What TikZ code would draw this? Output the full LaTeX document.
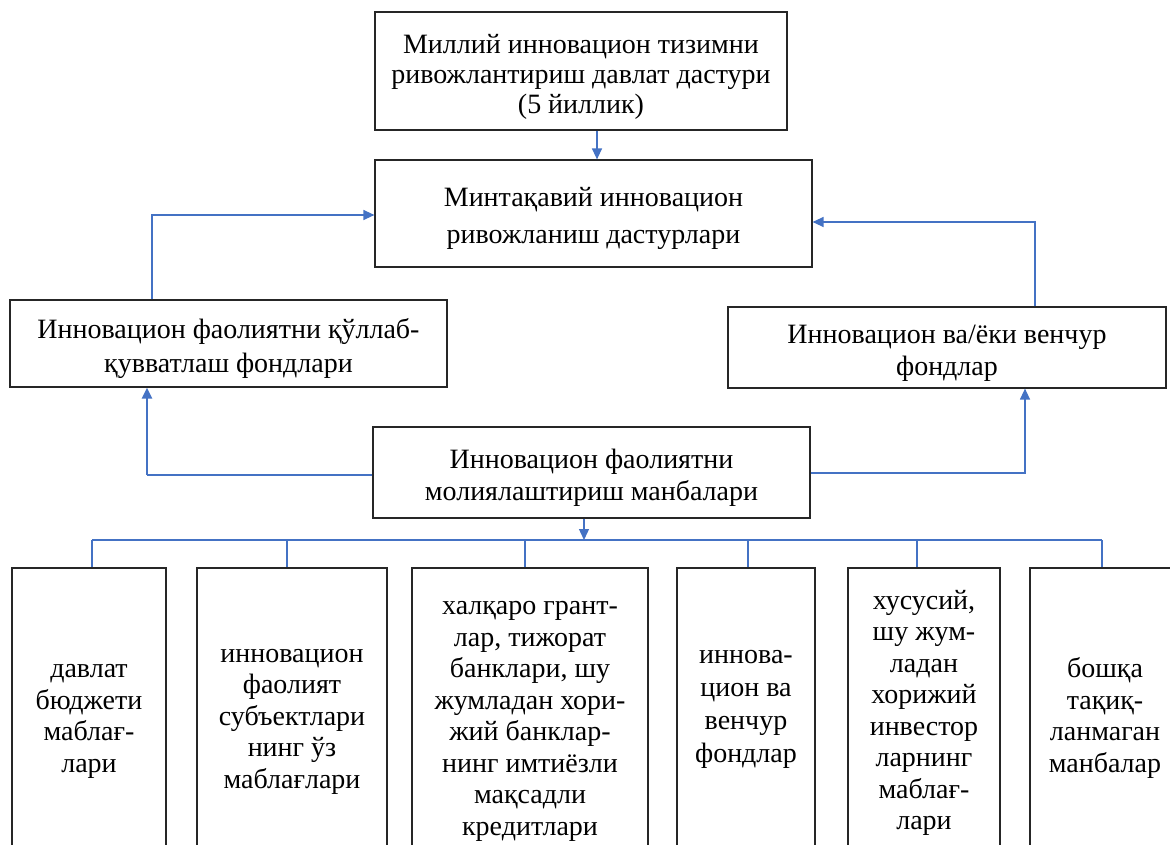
\documentclass[tikz,border=0pt]{standalone}
\usepackage{fontspec}
\setmainfont{Liberation Serif}
\usetikzlibrary{arrows.meta}
\definecolor{lnblue}{HTML}{4472C4}
\newcommand\boxstrut{\rule{0pt}{30pt}}
\begin{document}
\begin{tikzpicture}[x=1pt,y=-1pt,
  box/.style={draw=black!85,line width=1.2pt,rectangle,inner sep=1pt,align=center,
    font=\fontsize{28}{31.5}\selectfont},
  conn/.style={draw=lnblue,line width=1.3pt},
  arr/.style={conn,-{Triangle[length=11pt,width=10pt]}},
  bottombox/.style={box,minimum height=290pt,anchor=center}]
\useasboundingbox (0,0) rectangle (1170,845);
\clip (0,0) rectangle (1170,845);
\node[box,minimum width=412pt,minimum height=118pt,font=\fontsize{28}{30}\selectfont] (top) at (581,71)
  {\boxstrut Миллий инновацион тизимни\\ривожлантириш давлат дастури\\(5 йиллик)};
\node[box,minimum width=437pt,minimum height=107pt,font=\fontsize{28}{37}\selectfont] (reg) at (593.5,213.5)
  {\boxstrut Минтақавий инновацион\\ривожланиш дастурлари};
\node[box,minimum width=437pt,minimum height=87pt,font=\fontsize{28}{34}\selectfont] (lf) at (228.5,343.5)
  {\boxstrut Инновацион фаолиятни қўллаб-\\қувватлаш фондлари};
\node[box,minimum width=438pt,minimum height=81pt] (rf) at (947,347.5)
  {\boxstrut Инновацион ва/ёки венчур\\фондлар};
\node[box,minimum width=437pt,minimum height=91pt] (src) at (591.5,472.5)
  {\boxstrut Инновацион фаолиятни\\молиялаштириш манбалари};
\node[bottombox,minimum width=154pt] (b1) at (89,713)
  {\boxstrut давлат\\бюджети\\маблағ-\\лари};
\node[bottombox,minimum width=190pt] (b2) at (292,713)
  {\boxstrut инновацион\\фаолият\\субъектлари\\нинг ўз\\маблағлари};
\node[bottombox,minimum width=236pt] (b3) at (530,713)
  {\boxstrut халқаро грант-\\лар, тижорат\\банклари, шу\\жумладан хори-\\жий банклар-\\нинг имтиёзли\\мақсадли\\кредитлари};
\node[bottombox,minimum width=138pt,font=\fontsize{28}{33}\selectfont] (b4) at (746,713)
  {иннова-\\цион ва\\венчур\\фондлар\\[-20pt]};
\node[bottombox,minimum width=152pt] (b5) at (924,713)
  {хусусий,\\шу жум-\\ладан\\хорижий\\инвестор\\ларнинг\\маблағ-\\лари};
\node[bottombox,minimum width=150pt] (b6) at (1105,713)
  {\boxstrut бошқа\\тақиқ-\\ланмаган\\манбалар};
% top -> reg
\coordinate (a1) at (597,0);
\draw[arr] (top.south -| a1) -- (reg.north -| a1);
% lf -> reg
\coordinate (lc) at (152,215);
\draw[arr] (lf.north -| lc) -- (lc) -- (reg.west |- lc);
% rf -> reg
\coordinate (rc) at (1035,222);
\draw[arr] (rf.north -| rc) -- (rc) -- (reg.east |- rc);
% src -> lf
\coordinate (slc) at (147,475);
\draw[conn] (src.west |- slc) -- (slc);
\draw[arr,line width=2.2pt] (slc) -- (lf.south -| slc);
% src -> rf
\coordinate (src2) at (1025,473);
\draw[arr] (src.east |- src2) -- (src2) -- (rf.south -| src2);
% src -> bus
\coordinate (bus) at (584,540);
\draw[arr] (src.south -| bus) -- (bus);
\coordinate (d1) at (92,540);
\coordinate (d2) at (287,540);
\coordinate (d3) at (525,540);
\coordinate (d4) at (748,540);
\coordinate (d5) at (917,540);
\coordinate (d6) at (1102,540);
\draw[conn] (d1) -- (d6);
\foreach \i in {1,...,6} {\draw[conn] (d\i) -- (d\i |- b\i.north);}
\end{tikzpicture}
\end{document}
